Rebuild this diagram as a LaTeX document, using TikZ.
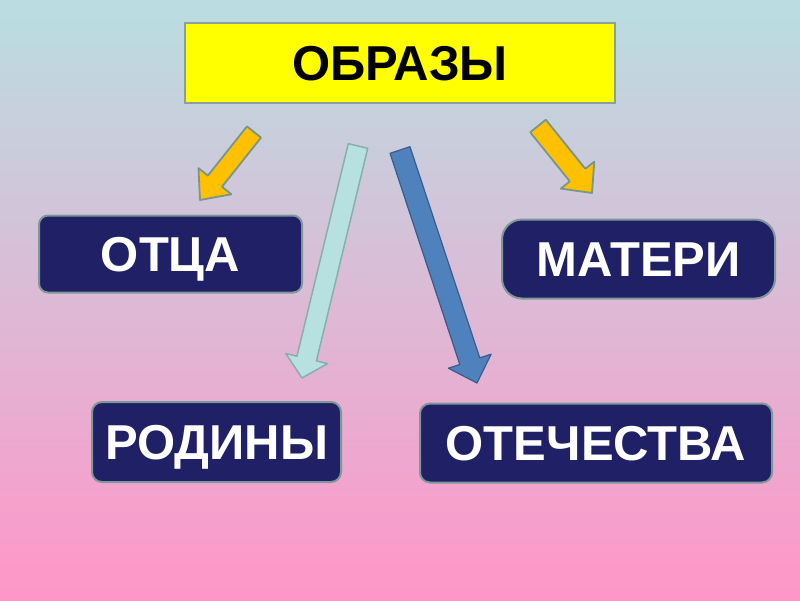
\documentclass[tikz,border=0pt]{standalone}
\usepackage{fontspec}
\setmainfont{Liberation Sans}
\usetikzlibrary{calc}
\definecolor{bgtop}{RGB}{185,222,226}
\definecolor{bgmid}{RGB}{221,188,220}
\definecolor{bgbot}{RGB}{255,150,200}
\definecolor{navy}{RGB}{32,32,102}
\definecolor{navyedge}{RGB}{125,152,152}
\definecolor{yel}{RGB}{255,255,0}
\definecolor{yeledge}{RGB}{140,158,158}
\definecolor{orangefill}{RGB}{255,192,0}
\definecolor{orangeedge}{RGB}{120,150,140}
\definecolor{cyanfill}{RGB}{183,225,225}
\definecolor{cyanedge}{RGB}{135,175,172}
\definecolor{bluefill}{RGB}{79,129,189}
\definecolor{blueedge}{RGB}{56,93,138}
\tikzset{
  titlebox/.style={draw=yeledge, line width=2pt, fill=yel, minimum width=430pt, minimum height=80pt, inner sep=0pt, text height=35pt, text depth=0pt, font=\fontsize{49}{49}\selectfont\bfseries, text=black},
  navybox/.style={draw=navyedge, line width=2pt, fill=navy, rounded corners=#1, inner sep=0pt, text height=35pt, text depth=0pt, font=\fontsize{49}{49}\selectfont\bfseries, text=white},
  orangearrow/.style={fill=orangefill, draw=orangeedge, line width=1.8pt, line join=round},
  cyanarrow/.style={fill=cyanfill, draw=cyanedge, line width=1.5pt, line join=round},
  bluearrow/.style={fill=bluefill, draw=blueedge, line width=1.2pt, line join=round}
}
% #1 style, #2 tail, #3 tip, #4 shaft half width, #5 head half width, #6 head length
\newcommand\myblockarrow[6]{%
  \coordinate (T) at #2; \coordinate (P) at #3;
  \coordinate (B) at ($(P)!#6!(T)$);
  \draw[#1] ($(T)!#4!90:(P)$) -- ($(B)!#4!-90:(T)$) -- ($(B)!#5!-90:(T)$) -- (P)
     -- ($(B)!#5!90:(T)$) -- ($(B)!#4!90:(T)$) -- ($(T)!#4!-90:(P)$) -- cycle;}
\begin{document}
\begin{tikzpicture}[x=1pt,y=-1pt]
\useasboundingbox (0,0) rectangle (800,600);
\fill[top color=bgtop, middle color=bgmid, bottom color=bgbot] (0,0) rectangle (800,600);

\node[titlebox] (obr) at (400,62.5) {ОБРАЗЫ};
\node[navybox=9pt, minimum width=263pt, minimum height=77pt] (otca) at (170.5,254) {ОТЦА};
\node[navybox=20pt, minimum width=273pt, minimum height=79pt] (mat) at (638.5,259) {МАТЕРИ};
\node[navybox=10pt, minimum width=249pt, minimum height=80pt] (rod) at (216.5,442) {РОДИНЫ};
\node[navybox=10pt, minimum width=352pt, minimum height=79pt] (otech) at (596,443) {ОТЕЧЕСТВА};

\myblockarrow{orangearrow}{(254,132)}{(200,200)}{9pt}{21pt}{24pt}
\myblockarrow{orangearrow}{(538,126)}{(592,193)}{10pt}{21.5pt}{23pt}
\myblockarrow{cyanarrow}{(358,146)}{(302,378)}{10pt}{21.5pt}{20pt}
\myblockarrow{bluearrow}{(400,150)}{(477,383)}{10.5pt}{22.5pt}{23pt}
\end{tikzpicture}
\end{document}
